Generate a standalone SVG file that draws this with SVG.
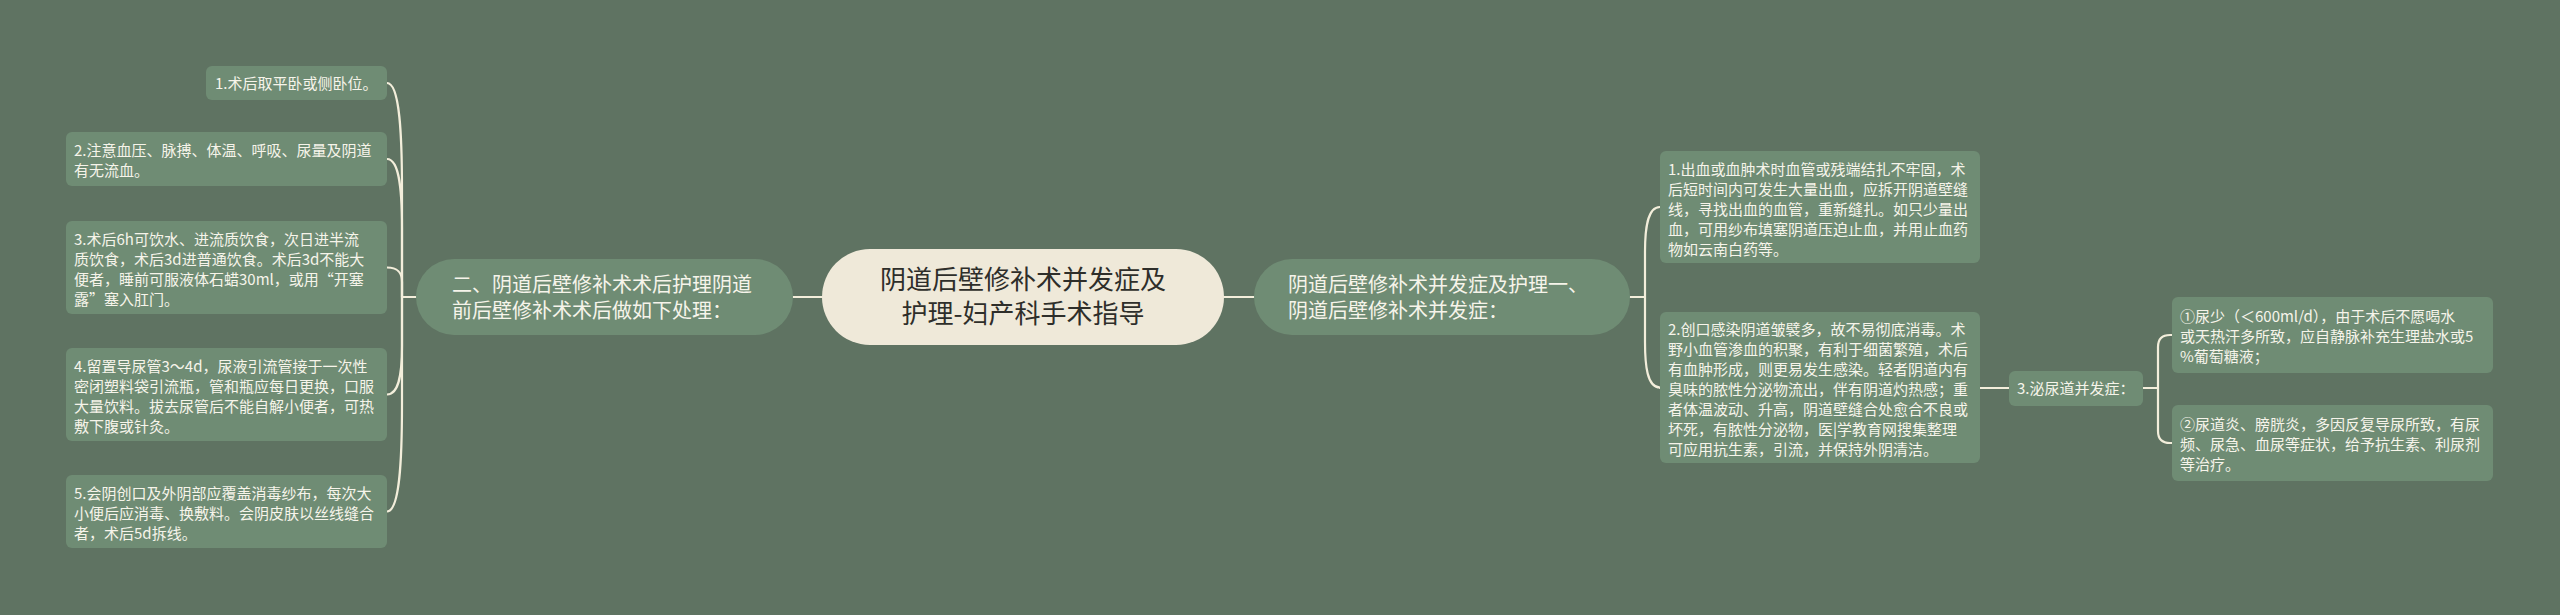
<svg xmlns="http://www.w3.org/2000/svg" width="2560" height="615" viewBox="0 0 2560 615">
<style>
.bg{fill:#5f7362}
.leaf{fill:#6f8c74}
.branch{fill:#6f8c74}
.center{fill:#efe9d9}
.t{font-family:"Noto Sans CJK SC","Noto Sans",sans-serif;fill:#f6f4ea}
.lt{font-size:15px}
.bt{font-size:20px}
.ct{font-family:"Noto Sans CJK SC","Noto Sans",sans-serif;font-size:26px;fill:#2e2e2a}
.c{fill:none;stroke:#f3eedb;stroke-width:2.2;stroke-linecap:round}
</style>
<rect class="bg" x="0" y="0" width="2560" height="615"/>
<g id="connectors">
  <path class="c" d="M793 297 H822"/>
  <path class="c" d="M1224 297 H1254"/>
  <path class="c" d="M416 297 H402"/>
  <path class="c" d="M387 83 C400 83 402 136 402 190 L402 297"/>
  <path class="c" d="M387 159 C400 159 402 193 402 228 L402 297"/>
  <path class="c" d="M387 267.5 C400 267.5 402 275 402 282 L402 297"/>
  <path class="c" d="M387 394.5 C400 394.5 402 370 402 346 L402 297"/>
  <path class="c" d="M387 511.5 C400 511.5 402 458 402 404 L402 297"/>
  <path class="c" d="M1630 297 H1645"/>
  <path class="c" d="M1660 207 C1647 207 1645 230 1645 252 L1645 297"/>
  <path class="c" d="M1660 387.5 C1647 387.5 1645 365 1645 342 L1645 297"/>
  <path class="c" d="M1660 388 H2009"/>
  <path class="c" d="M2143 388 H2158"/>
  <path class="c" d="M2158 388 V347 Q2158 335 2170 335 H2172"/>
  <path class="c" d="M2158 388 V431 Q2158 443 2170 443 H2172"/>
</g>
<g id="center">
  <rect class="center" x="822" y="249" width="402" height="96" rx="48"/>
  <text class="ct" x="1023" text-anchor="middle"><tspan x="1023" y="289">阴道后壁修补术并发症及</tspan><tspan x="1023" y="323">护理-妇产科手术指导</tspan></text>
</g>
<g id="branch-left">
  <rect class="branch" x="416" y="259" width="377" height="76" rx="38"/>
  <text class="t bt"><tspan x="452" y="292">二、阴道后壁修补术术后护理阴道</tspan><tspan x="452" y="318">前后壁修补术术后做如下处理：</tspan></text>
</g>
<g id="branch-right">
  <rect class="branch" x="1254" y="259" width="376" height="76" rx="38"/>
  <text class="t bt"><tspan x="1288" y="292">阴道后壁修补术并发症及护理一、</tspan><tspan x="1288" y="318">阴道后壁修补术并发症：</tspan></text>
</g>
<g id="leaf-l1">
  <rect class="leaf" x="206" y="66" width="181" height="34" rx="6"/>
  <text class="t lt"><tspan x="215" y="89">1.术后取平卧或侧卧位。</tspan></text>
</g>
<g id="leaf-l2">
  <rect class="leaf" x="66" y="132" width="321" height="54" rx="6"/>
  <text class="t lt"><tspan x="74" y="156">2.注意血压、脉搏、体温、呼吸、尿量及阴道</tspan><tspan x="74" y="176">有无流血。</tspan></text>
</g>
<g id="leaf-l3">
  <rect class="leaf" x="66" y="221" width="321" height="93" rx="6"/>
  <text class="t lt"><tspan x="74" y="245">3.术后6h可饮水、进流质饮食，次日进半流</tspan><tspan x="74" y="265">质饮食，术后3d进普通饮食。术后3d不能大</tspan><tspan x="74" y="285">便者，睡前可服液体石蜡30ml，或用“开塞</tspan><tspan x="74" y="305">露”塞入肛门。</tspan></text>
</g>
<g id="leaf-l4">
  <rect class="leaf" x="66" y="348" width="321" height="93" rx="6"/>
  <text class="t lt"><tspan x="74" y="372">4.留置导尿管3～4d，尿液引流管接于一次性</tspan><tspan x="74" y="392">密闭塑料袋引流瓶，管和瓶应每日更换，口服</tspan><tspan x="74" y="412">大量饮料。拔去尿管后不能自解小便者，可热</tspan><tspan x="74" y="432">敷下腹或针灸。</tspan></text>
</g>
<g id="leaf-l5">
  <rect class="leaf" x="66" y="475" width="321" height="73" rx="6"/>
  <text class="t lt"><tspan x="74" y="499">5.会阴创口及外阴部应覆盖消毒纱布，每次大</tspan><tspan x="74" y="519">小便后应消毒、换敷料。会阴皮肤以丝线缝合</tspan><tspan x="74" y="539">者，术后5d拆线。</tspan></text>
</g>
<g id="leaf-r1">
  <rect class="leaf" x="1660" y="151" width="320" height="112" rx="6"/>
  <text class="t lt"><tspan x="1668" y="175">1.出血或血肿术时血管或残端结扎不牢固，术</tspan><tspan x="1668" y="195">后短时间内可发生大量出血，应拆开阴道壁缝</tspan><tspan x="1668" y="215">线，寻找出血的血管，重新缝扎。如只少量出</tspan><tspan x="1668" y="235">血，可用纱布填塞阴道压迫止血，并用止血药</tspan><tspan x="1668" y="255">物如云南白药等。</tspan></text>
</g>
<g id="leaf-r2">
  <rect class="leaf" x="1660" y="312" width="320" height="151" rx="6"/>
  <text class="t lt"><tspan x="1668" y="335">2.创口感染阴道皱襞多，故不易彻底消毒。术</tspan><tspan x="1668" y="355">野小血管渗血的积聚，有利于细菌繁殖，术后</tspan><tspan x="1668" y="375">有血肿形成，则更易发生感染。轻者阴道内有</tspan><tspan x="1668" y="395">臭味的脓性分泌物流出，伴有阴道灼热感；重</tspan><tspan x="1668" y="415">者体温波动、升高，阴道壁缝合处愈合不良或</tspan><tspan x="1668" y="435">坏死，有脓性分泌物，医|学教育网搜集整理</tspan><tspan x="1668" y="455">可应用抗生素，引流，并保持外阴清洁。</tspan></text>
</g>
<g id="leaf-r3">
  <rect class="leaf" x="2009" y="371" width="134" height="35" rx="6"/>
  <text class="t lt"><tspan x="2017" y="394">3.泌尿道并发症：</tspan></text>
</g>
<g id="leaf-r3a">
  <rect class="leaf" x="2172" y="297" width="321" height="76" rx="6"/>
  <text class="t lt"><tspan x="2180" y="322">①尿少（＜600ml/d），由于术后不愿喝水</tspan><tspan x="2180" y="342">或天热汗多所致，应自静脉补充生理盐水或5</tspan><tspan x="2180" y="362">%葡萄糖液；</tspan></text>
</g>
<g id="leaf-r3b">
  <rect class="leaf" x="2172" y="405" width="321" height="76" rx="6"/>
  <text class="t lt"><tspan x="2180" y="430">②尿道炎、膀胱炎，多因反复导尿所致，有尿</tspan><tspan x="2180" y="450">频、尿急、血尿等症状，给予抗生素、利尿剂</tspan><tspan x="2180" y="470">等治疗。</tspan></text>
</g>
</svg>
